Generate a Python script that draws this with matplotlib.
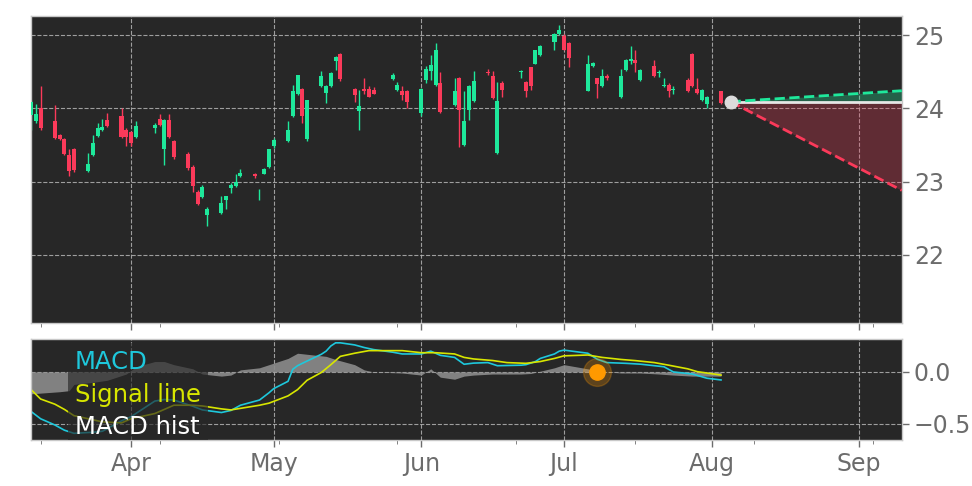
import matplotlib
matplotlib.use('Agg')
import matplotlib.pyplot as plt
import matplotlib.dates as mdates
import pandas as pd

# daily candles (2015)
dates = ['2015-03-11', '2015-03-12', '2015-03-13', '2015-03-16', '2015-03-17', '2015-03-18', '2015-03-19', '2015-03-20',
         '2015-03-23', '2015-03-24', '2015-03-25', '2015-03-26', '2015-03-27', '2015-03-30', '2015-03-31', '2015-04-01',
         '2015-04-02', '2015-04-06', '2015-04-07', '2015-04-08', '2015-04-09', '2015-04-10', '2015-04-13', '2015-04-14',
         '2015-04-15', '2015-04-16', '2015-04-17', '2015-04-20', '2015-04-21', '2015-04-22', '2015-04-23', '2015-04-24',
         '2015-04-27', '2015-04-28', '2015-04-29', '2015-04-30', '2015-05-01', '2015-05-04', '2015-05-05', '2015-05-06',
         '2015-05-07', '2015-05-08', '2015-05-11', '2015-05-12', '2015-05-13', '2015-05-14', '2015-05-15', '2015-05-18',
         '2015-05-19', '2015-05-20', '2015-05-21', '2015-05-22', '2015-05-26', '2015-05-27', '2015-05-28', '2015-05-29',
         '2015-06-01', '2015-06-02', '2015-06-03', '2015-06-04', '2015-06-05', '2015-06-08', '2015-06-09', '2015-06-10',
         '2015-06-11', '2015-06-12', '2015-06-15', '2015-06-16', '2015-06-17', '2015-06-18', '2015-06-22', '2015-06-23',
         '2015-06-24', '2015-06-25', '2015-06-26', '2015-06-29', '2015-06-30', '2015-07-01', '2015-07-02', '2015-07-06',
         '2015-07-07', '2015-07-08', '2015-07-09', '2015-07-10', '2015-07-13', '2015-07-14', '2015-07-15', '2015-07-16',
         '2015-07-17', '2015-07-20', '2015-07-21', '2015-07-22', '2015-07-23', '2015-07-24', '2015-07-27', '2015-07-28',
         '2015-07-29', '2015-07-30', '2015-07-31', '2015-08-03']
opens = [23.91, 23.82, 24.00, 23.82, 23.63, 23.58, 23.36, 23.45, 23.15, 23.36, 23.62, 23.70, 23.84, 23.90, 23.71, 23.67,
         23.61, 23.73, 23.85, 23.45, 23.84, 23.55, 23.38, 23.20, 22.86, 22.79, 22.55, 22.57, 22.75, 22.91, 22.94, 23.08,
         23.11, 22.88, 23.11, 23.20, 23.48, 23.55, 23.89, 24.20, 24.26, 23.58, 24.30, 24.21, 24.30, 24.65, 24.74, 24.26,
         23.97, 24.26, 24.27, 24.25, 24.40, 24.25, 24.23, 24.23, 23.93, 24.39, 24.51, 24.32, 24.35, 24.05, 24.41, 23.50,
         23.98, 24.10, 24.50, 24.44, 23.39, 24.35, 24.49, 24.36, 24.56, 24.61, 24.73, 24.91, 25.01, 24.99, 24.89, 24.24,
         24.58, 24.41, 24.30, 24.44, 24.15, 24.52, 24.64, 24.66, 24.38, 24.58, 24.48, 24.30, 24.32, 24.25, 24.39, 24.74,
         24.26, 24.11, 24.06, 24.23]
highs = [24.12, 24.06, 24.30, 24.05, 23.65, 23.60, 23.45, 23.46, 23.39, 23.64, 23.80, 23.86, 23.93, 24.00, 23.73, 23.69,
         23.82, 23.80, 23.92, 23.86, 23.92, 23.57, 23.40, 23.22, 22.88, 22.95, 22.65, 22.80, 22.81, 22.98, 23.10, 23.17,
         23.12, 22.90, 23.19, 23.45, 23.59, 23.82, 24.32, 24.46, 24.28, 24.12, 24.51, 24.32, 24.50, 24.72, 24.76, 24.28,
         24.25, 24.41, 24.30, 24.29, 24.48, 24.36, 24.30, 24.25, 24.28, 24.58, 24.73, 24.89, 24.49, 24.41, 24.43, 24.23,
         24.32, 24.51, 24.53, 24.51, 24.36, 24.37, 24.52, 24.37, 24.57, 24.80, 24.86, 25.03, 25.14, 25.01, 24.90, 24.73,
         24.63, 24.42, 24.53, 24.47, 24.53, 24.67, 24.85, 24.80, 24.54, 24.66, 24.52, 24.41, 24.34, 24.31, 24.41, 24.75,
         24.42, 24.26, 24.17, 24.24]
lows = [23.71, 23.80, 23.71, 23.58, 23.57, 23.36, 23.07, 23.13, 23.13, 23.35, 23.61, 23.69, 23.75, 23.60, 23.48, 23.48,
        23.60, 23.66, 23.76, 23.23, 23.60, 23.31, 23.16, 22.86, 22.68, 22.77, 22.40, 22.56, 22.63, 22.84, 22.93, 23.06,
        23.05, 22.75, 23.10, 23.18, 23.46, 23.54, 23.88, 24.18, 23.80, 23.56, 24.29, 24.07, 24.29, 24.52, 24.37, 24.09,
        23.70, 24.20, 24.15, 24.19, 24.39, 24.24, 24.12, 24.01, 23.90, 24.35, 24.39, 24.31, 23.94, 24.03, 23.47, 23.49,
        23.84, 24.09, 24.45, 24.13, 23.37, 24.16, 24.41, 24.15, 24.25, 24.60, 24.72, 24.80, 25.00, 24.79, 24.57, 24.23,
        24.57, 24.14, 24.29, 24.39, 24.14, 24.51, 24.60, 24.50, 24.37, 24.43, 24.43, 24.29, 24.16, 24.20, 24.22, 24.29,
        24.20, 24.10, 24.01, 24.06]
closes = [24.08, 23.92, 23.73, 23.59, 23.58, 23.38, 23.14, 23.16, 23.24, 23.53, 23.73, 23.75, 23.76, 23.61, 23.61, 23.53,
          23.76, 23.77, 23.77, 23.84, 23.61, 23.33, 23.18, 22.94, 22.69, 22.93, 22.63, 22.71, 22.80, 22.95, 22.99, 23.12,
          23.07, 22.89, 23.17, 23.44, 23.57, 23.71, 24.23, 24.45, 23.90, 24.11, 24.44, 24.30, 24.48, 24.70, 24.40, 24.18,
          24.03, 24.23, 24.16, 24.20, 24.46, 24.32, 24.18, 24.09, 24.27, 24.53, 24.59, 24.80, 23.95, 24.23, 23.98, 23.82,
          24.30, 24.37, 24.48, 24.14, 24.10, 24.25, 24.51, 24.24, 24.30, 24.79, 24.85, 25.01, 25.07, 24.80, 24.68, 24.61,
          24.62, 24.33, 24.44, 24.42, 24.44, 24.66, 24.67, 24.62, 24.52, 24.44, 24.50, 24.32, 24.24, 24.27, 24.23, 24.30,
          24.21, 24.25, 24.16, 24.07]

# forecast cone
fc_dates = ['2015-08-05', '2015-09-10']
fc_mid = [24.09, 24.09]
fc_up = [24.09, 24.24]
fc_down = [24.09, 22.88]

# MACD panel
macd_dates = ['2015-03-11', '2015-03-13', '2015-03-16', '2015-03-18', '2015-03-20', '2015-03-24', '2015-03-26',
              '2015-03-30', '2015-04-01', '2015-04-06', '2015-04-08', '2015-04-10', '2015-04-14', '2015-04-16',
              '2015-04-20', '2015-04-22', '2015-04-24', '2015-04-28', '2015-04-30', '2015-05-01', '2015-05-04',
              '2015-05-05', '2015-05-06', '2015-05-07', '2015-05-11', '2015-05-12', '2015-05-13', '2015-05-14',
              '2015-05-15', '2015-05-18', '2015-05-20', '2015-05-22', '2015-05-26', '2015-05-28', '2015-06-01',
              '2015-06-03', '2015-06-05', '2015-06-08', '2015-06-10', '2015-06-12', '2015-06-15', '2015-06-17',
              '2015-06-22', '2015-06-23', '2015-06-25', '2015-06-26', '2015-06-29', '2015-06-30', '2015-07-01',
              '2015-07-06', '2015-07-08', '2015-07-10', '2015-07-14', '2015-07-17', '2015-07-20', '2015-07-22',
              '2015-07-24', '2015-07-28', '2015-07-31', '2015-08-03']
macd = [-0.38, -0.45, -0.51, -0.56, -0.59, -0.58, -0.57, -0.47, -0.43, -0.28, -0.265, -0.27, -0.33, -0.365,
        -0.39, -0.37, -0.32, -0.27, -0.20, -0.16, -0.09, 0.026, 0.06, 0.083, 0.17, 0.20, 0.25, 0.28,
        0.28, 0.26, 0.235, 0.215, 0.19, 0.173, 0.173, 0.20, 0.16, 0.14, 0.074, 0.085, 0.09, 0.06,
        0.065, 0.07, 0.10, 0.13, 0.173, 0.20, 0.21, 0.18, 0.122, 0.09, 0.083, 0.075, 0.06, 0.05,
        0.00, -0.02, -0.06, -0.077]

signal_dates = ['2015-03-11', '2015-03-13', '2015-03-16', '2015-03-18', '2015-03-20', '2015-03-24', '2015-03-26',
                '2015-03-30', '2015-04-01', '2015-04-06', '2015-04-08', '2015-04-10', '2015-04-14', '2015-04-16',
                '2015-04-20', '2015-04-22', '2015-04-24', '2015-04-28', '2015-04-30', '2015-05-04', '2015-05-06',
                '2015-05-08', '2015-05-11', '2015-05-13', '2015-05-15', '2015-05-18', '2015-05-21', '2015-05-28',
                '2015-06-01', '2015-06-04', '2015-06-08', '2015-06-10', '2015-06-12', '2015-06-16', '2015-06-19',
                '2015-06-23', '2015-06-26', '2015-06-29', '2015-07-01', '2015-07-06', '2015-07-09', '2015-07-13',
                '2015-07-16', '2015-07-20', '2015-07-23', '2015-07-27', '2015-07-29', '2015-08-03']
signal = [-0.17, -0.26, -0.31, -0.36, -0.42, -0.46, -0.48, -0.49, -0.45, -0.40, -0.36, -0.32, -0.32, -0.327,
          -0.355, -0.365, -0.35, -0.32, -0.30, -0.23, -0.17, -0.08, -0.005, 0.07, 0.15, 0.18, 0.205, 0.205,
          0.185, 0.185, 0.173, 0.14, 0.125, 0.11, 0.09, 0.083, 0.10, 0.13, 0.155, 0.163, 0.14, 0.12,
          0.109, 0.09, 0.065, 0.03, 0.003, -0.03]

hist_dates = ['2015-03-11', '2015-03-17', '2015-03-19', '2015-03-20', '2015-03-24', '2015-03-27', '2015-03-31',
              '2015-04-02', '2015-04-06', '2015-04-08', '2015-04-10', '2015-04-14', '2015-04-16', '2015-04-20',
              '2015-04-22', '2015-04-24', '2015-04-28', '2015-04-30', '2015-05-04', '2015-05-06', '2015-05-08',
              '2015-05-12', '2015-05-14', '2015-05-18', '2015-05-20', '2015-05-22', '2015-05-28', '2015-06-01',
              '2015-06-03', '2015-06-05', '2015-06-08', '2015-06-10', '2015-06-12', '2015-06-16', '2015-06-22',
              '2015-06-24', '2015-06-29', '2015-07-01', '2015-07-06', '2015-07-08', '2015-07-13', '2015-07-17',
              '2015-07-21', '2015-07-24', '2015-07-28', '2015-08-03']
hist = [-0.21, -0.19, -0.18, -0.12, -0.10, -0.08, -0.02, 0.05, 0.10, 0.10, 0.07, 0.03, -0.02, -0.04,
        -0.03, 0.02, 0.04, 0.07, 0.13, 0.18, 0.17, 0.15, 0.12, 0.07, 0.02, 0.00, -0.01, -0.03,
        0.03, -0.05, -0.07, -0.04, -0.03, -0.02, -0.02, -0.015, 0.04, 0.07, 0.03, 0.01, -0.01, -0.01,
        -0.02, -0.03, -0.04, -0.04]

cross_date = '2015-07-08'
cross_value = 0.0

UP = '#1ee89b'
DOWN = '#fb3a5a'
BG = '#272727'
TXT = '#6c6c6c'

x = mdates.date2num(pd.to_datetime(dates))
colors = [UP if c >= o else DOWN for o, c in zip(opens, closes)]

fig = plt.figure(figsize=(9.72, 4.86), dpi=100)
ax = fig.add_axes([0.0319, 0.3354, 0.8961, 0.6317])
ax2 = fig.add_axes([0.0319, 0.0947, 0.8961, 0.2078], sharex=ax)

for a in (ax, ax2):
    a.set_facecolor(BG)
    for s in a.spines.values():
        s.set_color('#c8c8c8')
        s.set_linewidth(1)
    a.yaxis.tick_right()
    a.grid(True, ls='--', color='#b4b4b4', lw=0.8, alpha=0.85)
    a.set_axisbelow(True)
    a.tick_params(colors=TXT, labelsize=17, length=5, width=1)
    a.tick_params(which='minor', colors=TXT, length=3)

# candles
bottoms = [min(o, c) for o, c in zip(opens, closes)]
heights = [abs(c - o) for o, c in zip(opens, closes)]
ax.vlines(x, lows, highs, colors=colors, lw=1, zorder=2)
ax.bar(x, heights, bottom=bottoms, width=0.85, color=colors, zorder=3)

# forecast
fx = mdates.date2num(pd.to_datetime(fc_dates))
ax.fill_between(fx, fc_mid, fc_up, color=UP, alpha=0.3, lw=0)
ax.fill_between(fx, fc_mid, fc_down, color=DOWN, alpha=0.27, lw=0)
ax.plot(fx, fc_mid, color='#e6e6e6', lw=2, zorder=4)
ax.plot(fx, fc_up, color=UP, lw=2, ls='--', zorder=4)
ax.plot(fx, fc_down, color=DOWN, lw=2, ls='--', zorder=4)
ax.plot(fx[0], fc_mid[0], 'o', color='#dcdcdc', ms=9, zorder=5)

ax.set_ylim(21.07, 25.26)
ax.set_yticks([22, 23, 24, 25])

# MACD
hx = mdates.date2num(pd.to_datetime(hist_dates))
ax2.fill_between(hx, 0, hist, color='#8c8c8c', alpha=0.9, lw=0, label='MACD hist')
ax2.plot(pd.to_datetime(macd_dates), macd, color='#1ec8dc', lw=1.2, label='MACD')
ax2.plot(pd.to_datetime(signal_dates), signal, color='#d8e600', lw=1.2, label='Signal line')
cx = mdates.date2num(pd.to_datetime(cross_date))
ax2.plot(cx, cross_value, 'o', color='#ff9900', ms=20, alpha=0.25, zorder=5)
ax2.plot(cx, cross_value, 'o', color='#ff9900', ms=11, zorder=6)
ax2.set_ylim(-0.654, 0.317)
ax2.set_yticks([-0.5, 0.0])

handles, labels = ax2.get_legend_handles_labels()
order = [labels.index('MACD'), labels.index('Signal line'), labels.index('MACD hist')]
leg = ax2.legend([handles[i] for i in order], [labels[i] for i in order],
                 loc='upper left', bbox_to_anchor=(0.028, 1.08), fontsize=17.5,
                 handlelength=0, handletextpad=0, labelspacing=0.35, borderpad=0.3,
                 facecolor=BG, edgecolor='none', framealpha=0.65)
leg.legendPatch.set_clip_box(ax2.bbox)
leg.legendPatch.set_clip_on(True)
for t, c in zip(leg.get_texts(), ['#1ec8dc', '#d8e600', 'white']):
    t.set_color(c)
for h in leg.legend_handles:
    h.set_visible(False)

# x axis
ax.set_xlim(mdates.date2num(pd.Timestamp('2015-03-11')) - 0.02,
            mdates.date2num(pd.Timestamp('2015-09-10')) + 0.04)
ax2.xaxis.set_major_locator(mdates.MonthLocator())
ax2.xaxis.set_major_formatter(mdates.DateFormatter('%b'))
minor = mdates.date2num(pd.date_range('2015-03-13', periods=8, freq='25D'))
ax2.xaxis.set_minor_locator(matplotlib.ticker.FixedLocator(minor))
ax.tick_params(labelbottom=False)

fig.savefig('out.png', dpi=100)
